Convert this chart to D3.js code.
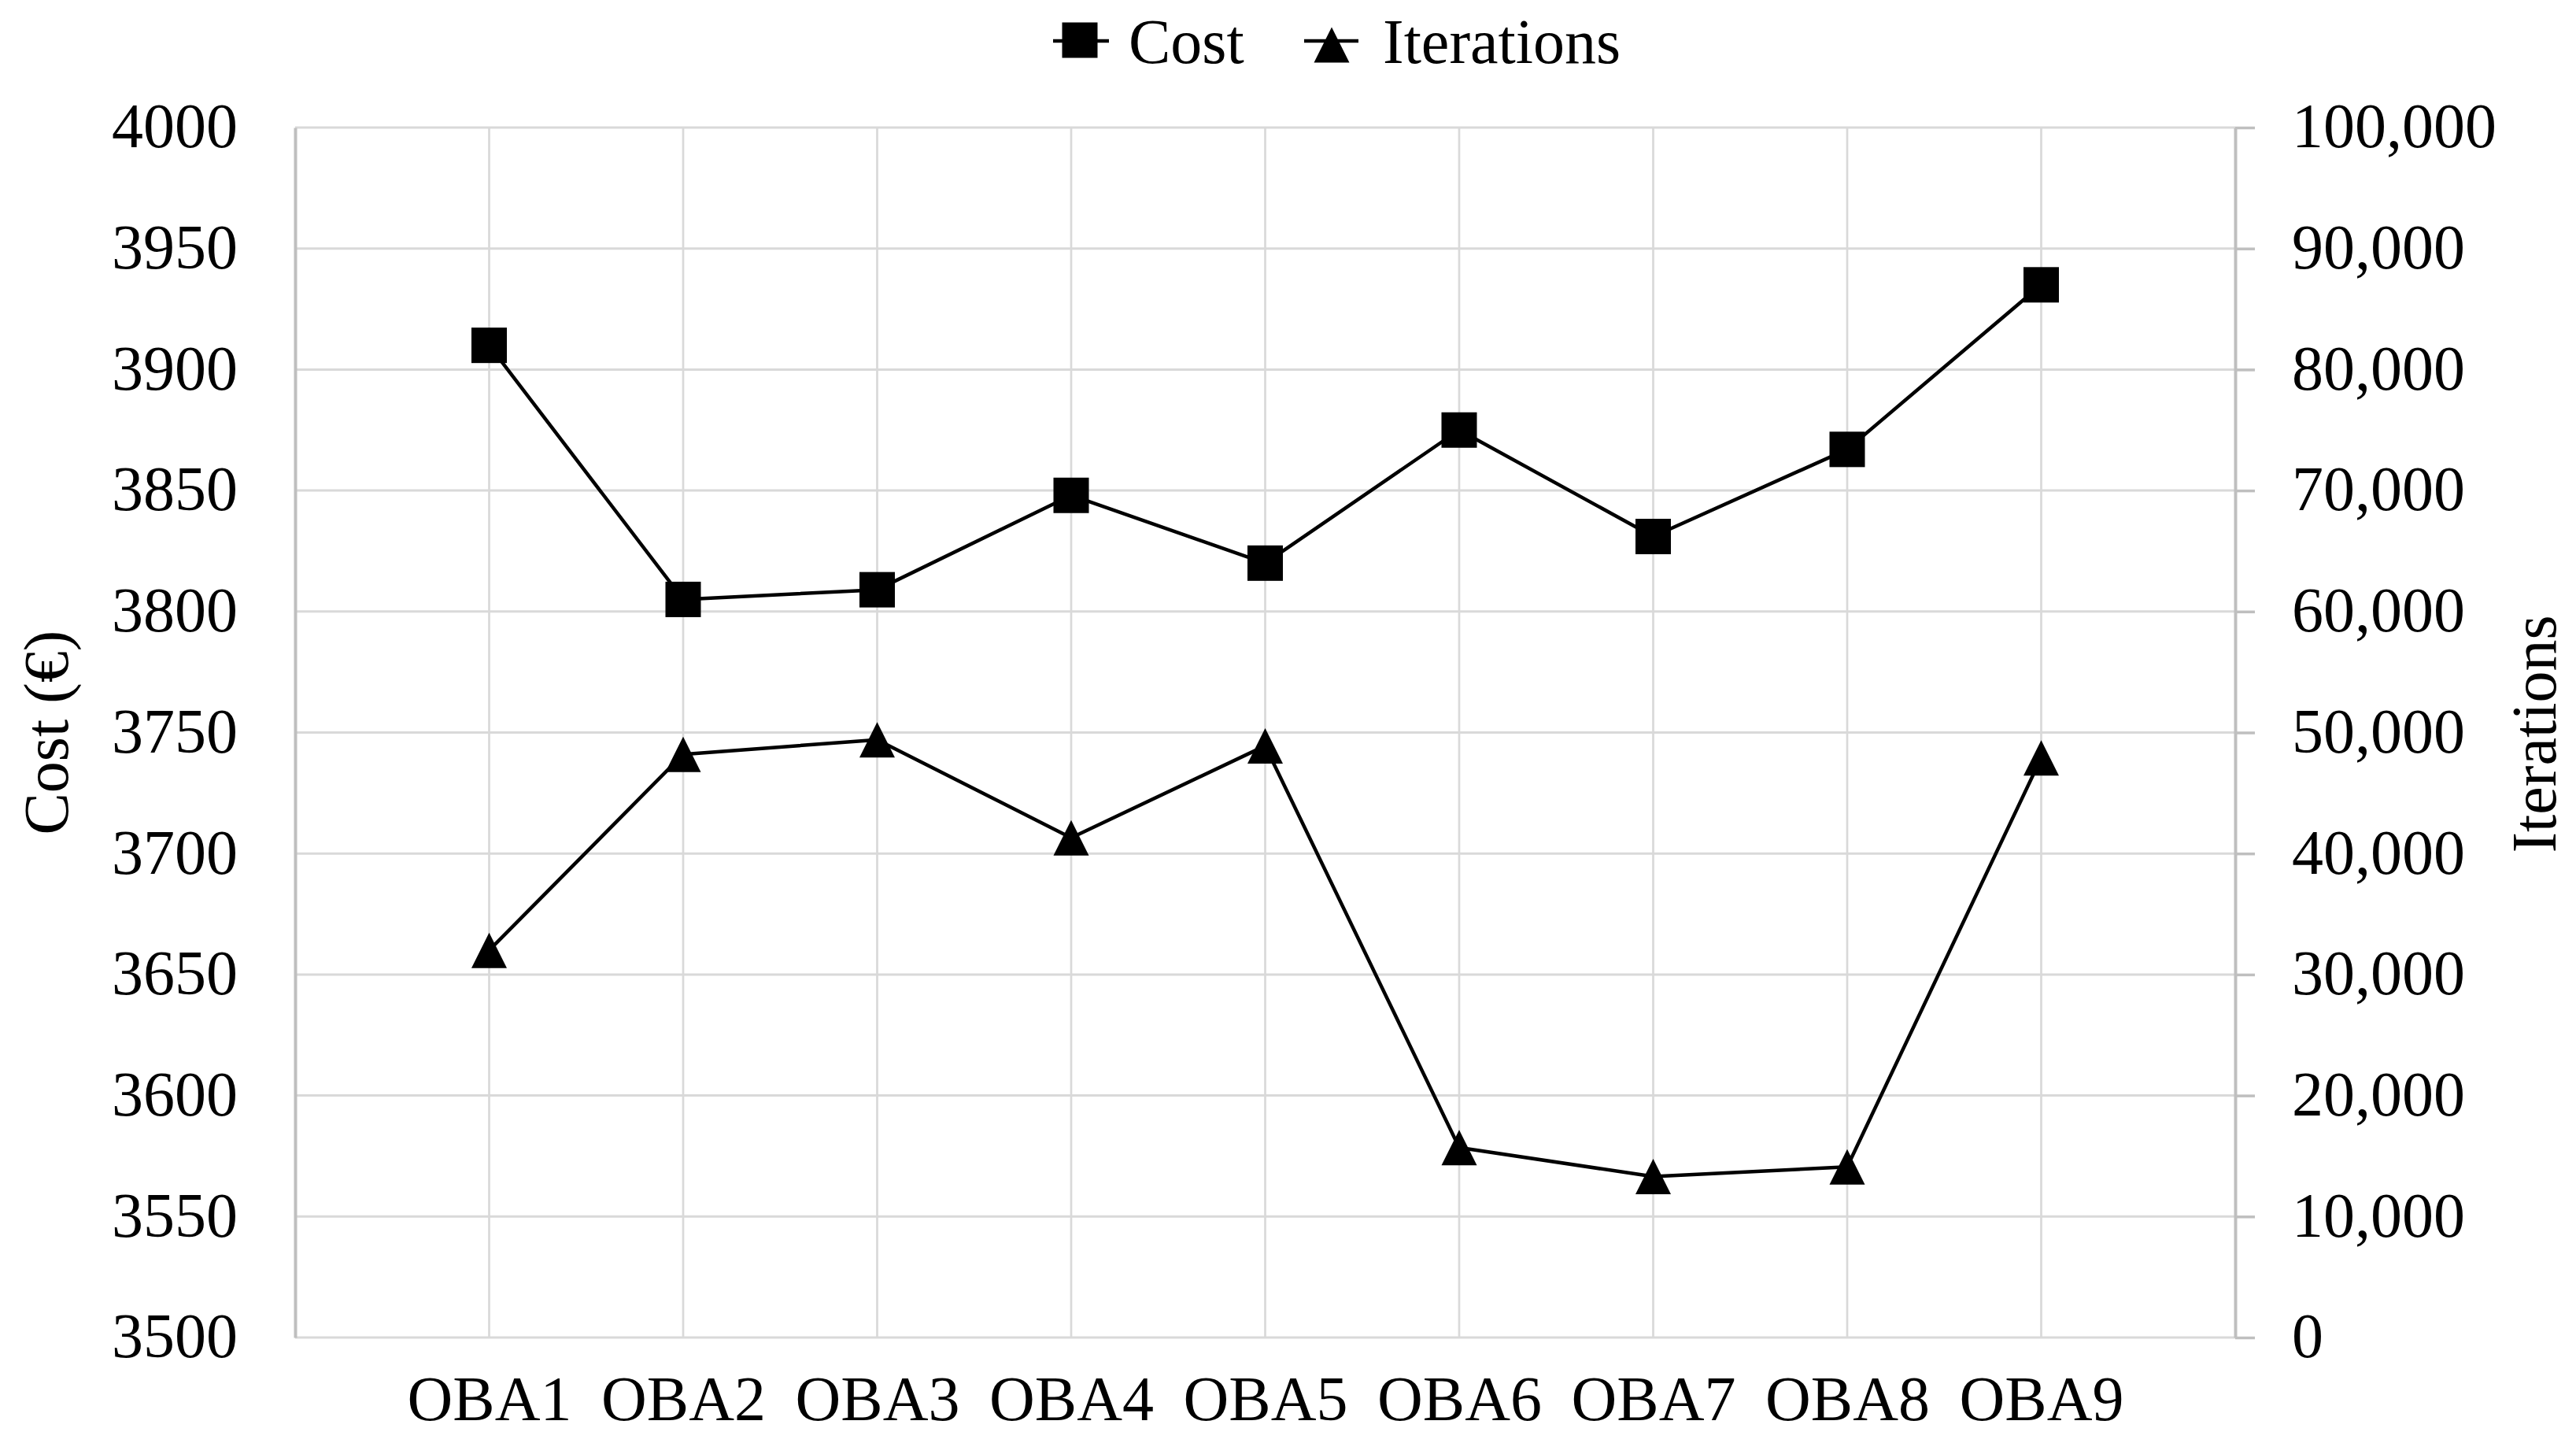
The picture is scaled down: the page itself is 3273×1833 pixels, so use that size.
<!DOCTYPE html>
<html>
<head>
<meta charset="utf-8">
<script src="https://cdn.jsdelivr.net/npm/d3@7"></script>
<style>
  html, body { margin: 0; padding: 0; background: #fff; }
  svg { display: block; }
</style>
</head>
<body>
<script>
// ---- data ----
const categories = ["OBA1", "OBA2", "OBA3", "OBA4", "OBA5", "OBA6", "OBA7", "OBA8", "OBA9"];
const costValues = [3910, 3805, 3809, 3848, 3820, 3875, 3831, 3867, 3935];
const iterationValues = [32000, 48200, 49400, 41300, 48900, 15700, 13300, 14100, 47900];
const costTicks = [3500, 3550, 3600, 3650, 3700, 3750, 3800, 3850, 3900, 3950, 4000];
const iterationTicks = [0, 10000, 20000, 30000, 40000, 50000, 60000, 70000, 80000, 90000, 100000];
const seriesNames = ["Cost", "Iterations"];
const leftTitle = "Cost (€)";
const rightTitle = "Iterations";

// ---- layout ----
const W = 3273, H = 1833;
const L = 375, R = 2840, T = 162, B = 1699;
const FONT = "'Liberation Serif', 'Times New Roman', serif";
const FS = 80;

const svg = d3.select("body").append("svg").attr("width", W).attr("height", H)
  .style("font-family", FONT);

const x = d3.scalePoint().domain(categories).range([L, R]).padding(1);
const yL = d3.scaleLinear().domain([3500, 4000]).range([B, T]);
const yR = d3.scaleLinear().domain([0, 100000]).range([B, T]);

// gridlines
const grid = svg.append("g");
grid.selectAll("line.h").data(costTicks).join("line")
  .attr("x1", L).attr("x2", R)
  .attr("y1", d => yL(d)).attr("y2", d => yL(d))
  .attr("stroke", "#d9d9d9").attr("stroke-width", 3);
grid.selectAll("line.v").data(categories).join("line")
  .attr("x1", d => x(d)).attr("x2", d => x(d))
  .attr("y1", T).attr("y2", B)
  .attr("stroke", "#d9d9d9").attr("stroke-width", 2.7);

// left axis
const gL = svg.append("g").attr("transform", `translate(${L},0)`)
  .call(d3.axisLeft(yL).tickValues(costTicks).tickSize(0).tickPadding(73).tickFormat(d3.format("d")));
gL.select(".domain").attr("stroke", "#bfbfbf").attr("stroke-width", 4);
gL.selectAll("text").attr("font-family", FONT).attr("font-size", FS).attr("fill", "#000").attr("dy", "0.31em");

// right axis
const gR = svg.append("g").attr("transform", `translate(${R},0)`)
  .call(d3.axisRight(yR).tickValues(iterationTicks).tickSizeInner(25).tickSizeOuter(0).tickPadding(47).tickFormat(d3.format(",")));
gR.select(".domain").attr("stroke", "#bfbfbf").attr("stroke-width", 4);
gR.selectAll(".tick line").attr("stroke", "#bfbfbf").attr("stroke-width", 3.5);
gR.selectAll("text").attr("font-family", FONT).attr("font-size", FS).attr("fill", "#000").attr("dy", "0.31em");

// bottom axis
const gB = svg.append("g").attr("transform", `translate(0,${B})`)
  .call(d3.axisBottom(x).tickSize(0).tickPadding(48));
gB.select(".domain").remove();
gB.selectAll("text").attr("font-family", FONT).attr("font-size", FS).attr("fill", "#000");

// axis titles
svg.append("text").attr("transform", `translate(86,${(T + B) / 2}) rotate(-90)`)
  .attr("text-anchor", "middle").attr("font-size", FS).text(leftTitle);
svg.append("text").attr("transform", `translate(3247,${(T + B) / 2 + 2}) rotate(-90)`)
  .attr("text-anchor", "middle").attr("font-size", FS).text(rightTitle);

// lines
const costLine = d3.line().x((d, i) => x(categories[i])).y(d => yL(d));
const iterLine = d3.line().x((d, i) => x(categories[i])).y(d => yR(d));
svg.append("path").attr("d", costLine(costValues)).attr("fill", "none")
  .attr("stroke", "#000").attr("stroke-width", 4.5).attr("stroke-linejoin", "round");
svg.append("path").attr("d", iterLine(iterationValues)).attr("fill", "none")
  .attr("stroke", "#000").attr("stroke-width", 4.5).attr("stroke-linejoin", "round");

// markers
const MS = 45;
const triPath = `M0,${-MS / 2}L${MS / 2},${MS / 2}L${-MS / 2},${MS / 2}Z`;
svg.append("g").selectAll("rect").data(costValues).join("rect")
  .attr("x", (d, i) => x(categories[i]) - MS / 2)
  .attr("y", d => yL(d) - MS / 2)
  .attr("width", MS).attr("height", MS).attr("fill", "#000");
svg.append("g").selectAll("path").data(iterationValues).join("path")
  .attr("transform", (d, i) => `translate(${x(categories[i])},${yR(d)})`)
  .attr("d", triPath).attr("fill", "#000");

// legend
const lg = svg.append("g");
lg.append("line").attr("x1", 1338).attr("x2", 1409).attr("y1", 52).attr("y2", 52)
  .attr("stroke", "#000").attr("stroke-width", 4.5);
lg.append("rect").attr("x", 1372 - MS / 2).attr("y", 51 - MS / 2).attr("width", MS).attr("height", MS).attr("fill", "#000");
lg.append("text").attr("x", 1434).attr("y", 80).attr("font-size", FS).text(seriesNames[0]);
lg.append("line").attr("x1", 1657).attr("x2", 1726).attr("y1", 52).attr("y2", 52)
  .attr("stroke", "#000").attr("stroke-width", 4.5);
lg.append("path").attr("transform", "translate(1692,57)").attr("d", triPath).attr("fill", "#000");
lg.append("text").attr("x", 1757).attr("y", 80).attr("font-size", FS).text(seriesNames[1]);
</script>
</body>
</html>
